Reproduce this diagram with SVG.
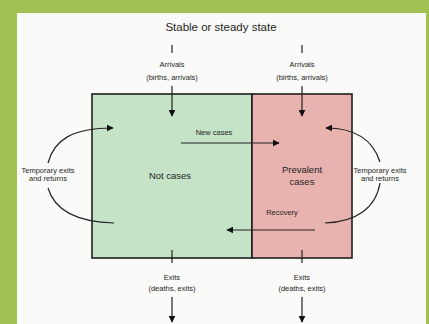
<svg xmlns="http://www.w3.org/2000/svg" width="429" height="324" viewBox="0 0 429 324">
<style>
text{font-family:"Liberation Sans",Arial,sans-serif;fill:#1f1f1f;text-anchor:middle}
.t{font-size:11.5px}
.s{font-size:7.5px}
.n{font-size:9.5px}
.ln{stroke:#222;stroke-width:1.2;fill:none}
.box{stroke:#1e1e1e;stroke-width:1.6}
</style>
<defs>
<marker id="ah" viewBox="0 0 10 10" refX="9" refY="5" markerWidth="7" markerHeight="7" markerUnits="userSpaceOnUse" orient="auto">
<path d="M0,0 L10,5 L0,10 z" fill="#111"/>
</marker>
</defs>
<rect x="0" y="0" width="429" height="324" fill="#a1c253"/>
<rect x="17" y="13" width="409" height="311" fill="#fafaf8"/>
<text class="t" x="221" y="31">Stable or steady state</text>
<g id="not-cases">
<rect class="box" x="92" y="94" width="160" height="164" fill="#c5e3c7"/>
<text class="n" x="170" y="179">Not cases</text>
</g>
<g id="prevalent-cases">
<rect class="box" x="252" y="94" width="100" height="164" fill="#e8b2ae"/>
<text class="n" x="302" y="173">Prevalent</text>
<text class="n" x="302" y="185">cases</text>
</g>
<g id="arrivals-left">
<text class="s" x="172" y="67">Arrivals</text>
<text class="s" x="172" y="80">(births, arrivals)</text>
</g>
<g id="arrivals-right">
<text class="s" x="302" y="67">Arrivals</text>
<text class="s" x="302" y="80">(births, arrivals)</text>
</g>
<g id="exits-left">
<text class="s" x="172" y="280">Exits</text>
<text class="s" x="172" y="291">(deaths, exits)</text>
</g>
<g id="exits-right">
<text class="s" x="302" y="280">Exits</text>
<text class="s" x="302" y="291">(deaths, exits)</text>
</g>
<g id="temp-left">
<text class="s" x="48" y="172.5">Temporary exits</text>
<text class="s" x="48" y="181">and returns</text>
</g>
<g id="temp-right">
<text class="s" x="380" y="172.5">Temporary exits</text>
<text class="s" x="380" y="181">and returns</text>
</g>
<g id="connectors">
<line class="ln" x1="172" y1="45" x2="172" y2="53"/>
<line class="ln" x1="172" y1="86" x2="172" y2="116" marker-end="url(#ah)"/>
<line class="ln" x1="302" y1="45" x2="302" y2="53"/>
<line class="ln" x1="302" y1="86" x2="302" y2="116" marker-end="url(#ah)"/>
<line class="ln" x1="172" y1="250" x2="172" y2="263"/>
<line class="ln" x1="172" y1="297" x2="172" y2="322" marker-end="url(#ah)"/>
<line class="ln" x1="302" y1="250" x2="302" y2="263"/>
<line class="ln" x1="302" y1="297" x2="302" y2="322" marker-end="url(#ah)"/>
<line class="ln" x1="181" y1="143" x2="279" y2="143" marker-end="url(#ah)"/>
<text class="s" x="214" y="135">New cases</text>
<line class="ln" x1="315" y1="230" x2="227" y2="230" marker-end="url(#ah)"/>
<text class="s" x="282" y="215">Recovery</text>
<path class="ln" d="M48,163 C54,140 72,128 113,128" marker-end="url(#ah)"/>
<path class="ln" d="M48,188 C55,212 80,222 114,223"/>
<path class="ln" d="M380,162 C373,140 356,128 326,128" marker-end="url(#ah)"/>
<path class="ln" d="M380,183 C376,208 356,222 325,223"/>
</g>
</svg>
